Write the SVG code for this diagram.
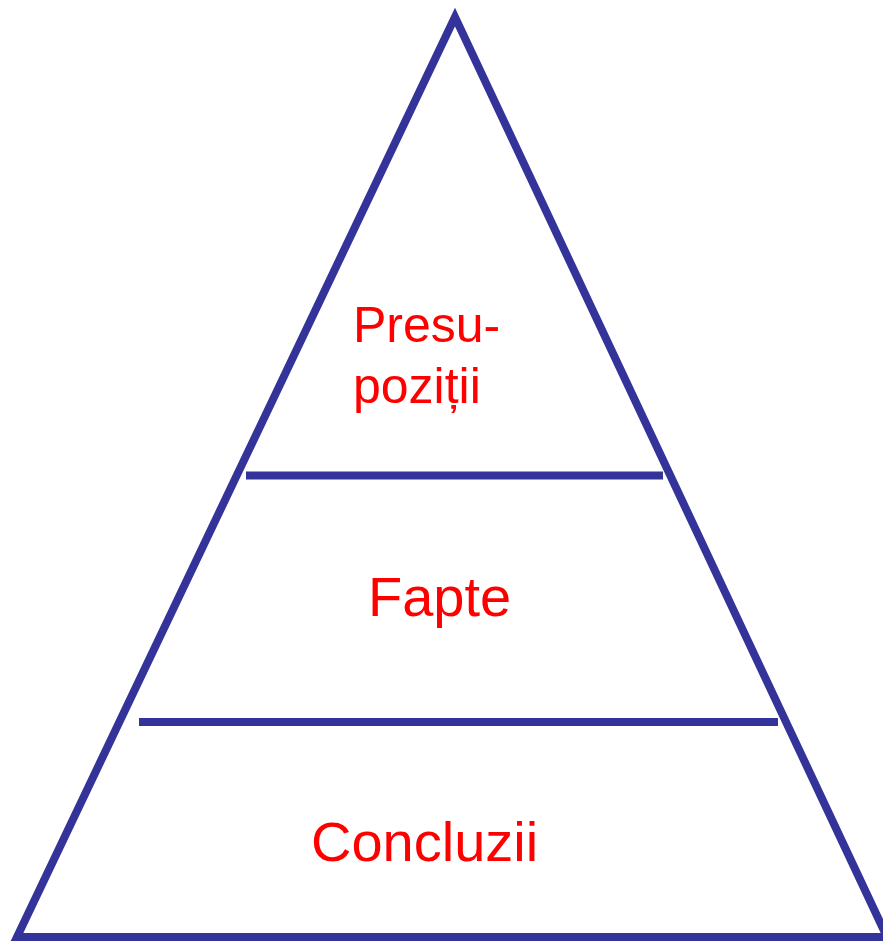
<svg xmlns="http://www.w3.org/2000/svg" width="883" height="943" viewBox="0 0 883 943">
<style>
.edge{fill:none;stroke:#333399;stroke-width:8;stroke-linejoin:miter}
.lbl{font-family:"Liberation Sans",Arial,sans-serif;fill:#FF0000}
</style>
<rect width="883" height="943" fill="#FFFFFF"/>
<g id="connectors">
<path class="edge" d="M455,17 L17,937 L887,937 Z"/>
<line class="edge" x1="246" y1="475.5" x2="663" y2="475.5"/>
<line class="edge" x1="139" y1="722" x2="778" y2="722"/>
</g>
<g id="presupozitii">
<text class="lbl" font-size="50" x="353" y="342">Presu-</text>
<text class="lbl" font-size="50" x="353" y="403">poziții</text>
</g>
<g id="fapte">
<text class="lbl" font-size="56" x="368" y="616">Fapte</text>
</g>
<g id="concluzii">
<text class="lbl" font-size="56" x="311" y="861">Concluzii</text>
</g>
</svg>
